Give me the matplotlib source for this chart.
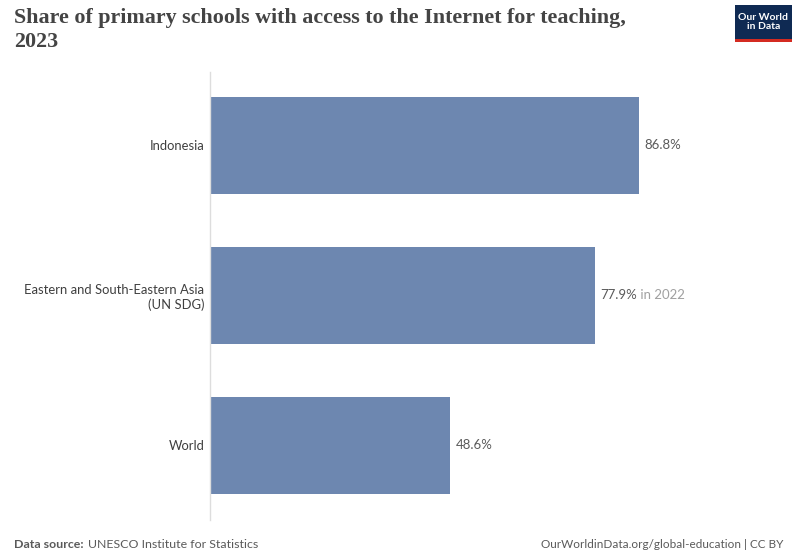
import matplotlib
matplotlib.use("Agg")
import matplotlib.pyplot as plt
from matplotlib.patches import Rectangle

categories = ["Indonesia", "Eastern and South-Eastern Asia\n(UN SDG)", "World"]
values = [86.8, 77.9, 48.6]
value_labels = ["86.8%", "77.9%", "48.6%"]
year_notes = ["", " in 2022", ""]

W, H = 796, 552
fig = plt.figure(figsize=(W/100, H/100), dpi=100)
ax = fig.add_axes([210/W, 1-520/H, (780-210)/W, (520-72)/H])

bar_color = "#6d87b0"
y = list(range(len(categories)))
ax.barh(y, values, height=0.647, color=bar_color, edgecolor="none")
ax.set_xlim(0, 570/4.943)
ax.set_ylim(2.497, -0.49)
for s in ["top", "right", "bottom"]:
    ax.spines[s].set_visible(False)
ax.spines["left"].set_color("#dddddd")
ax.spines["left"].set_linewidth(1)
ax.set_xticks([])
ax.set_yticks(y)
ax.set_yticklabels(categories, fontsize=9.4, family="Lato", color="#3f3f3f")
ax.tick_params(axis="y", length=0, pad=4)
for lab in ax.get_yticklabels():
    lab.set_horizontalalignment("right")
    lab.set_multialignment("right")

fig.canvas.draw()
for yi, v, lab, note in zip(y, values, value_labels, year_notes):
    t = ax.annotate(lab, xy=(v, yi), xytext=(4, 0), textcoords="offset points",
                    va="center", ha="left", fontsize=9.5, family="Lato", color="#5a5a5a")
    if note:
        fig.canvas.draw()
        bb = t.get_window_extent()
        ax.annotate(note, xy=(bb.x1, (bb.y0+bb.y1)/2), xycoords="figure pixels",
                    va="center", ha="left", fontsize=9.5, family="Lato", color="#a0a0a0")

fig.text(14/W, 1-8/H, "Share of primary schools with access to the Internet for teaching,\n2023",
         fontsize=15.8, family="Liberation Serif", color="#444444", va="top", ha="left",
         linespacing=1.25, weight="bold")

# logo
lx0, ly0, lw, lh = 735, 5, 57, 37
fig.patches.append(Rectangle((lx0/W, 1-(ly0+lh)/H), lw/W, lh/H, transform=fig.transFigure,
                             facecolor="#0f2a53", edgecolor="none"))
fig.patches.append(Rectangle((lx0/W, 1-(ly0+lh)/H), lw/W, 3/H, transform=fig.transFigure,
                             facecolor="#d42b21", edgecolor="none"))
fig.text((lx0+lw/2)/W, 1-(ly0+17)/H, "Our World\nin Data", fontsize=7.5, family="Lato",
         color="white", ha="center", va="center", weight="bold", linespacing=1.0)

t1 = fig.text(14/W, 1-544/H, "Data source:", fontsize=8.9, family="Lato", color="#5a5a5a",
              weight="bold", va="center", ha="left")
fig.canvas.draw()
bb = t1.get_window_extent()
fig.text((bb.x1 + 4)/W, 1-544/H, "UNESCO Institute for Statistics", fontsize=8.9, family="Lato",
         color="#5a5a5a", va="center", ha="left")
fig.text(783/W, 1-544/H, "OurWorldinData.org/global-education | CC BY", fontsize=8.5,
         family="Lato", color="#5a5a5a", va="center", ha="right")

fig.savefig("out.png", dpi=100, facecolor="white")
